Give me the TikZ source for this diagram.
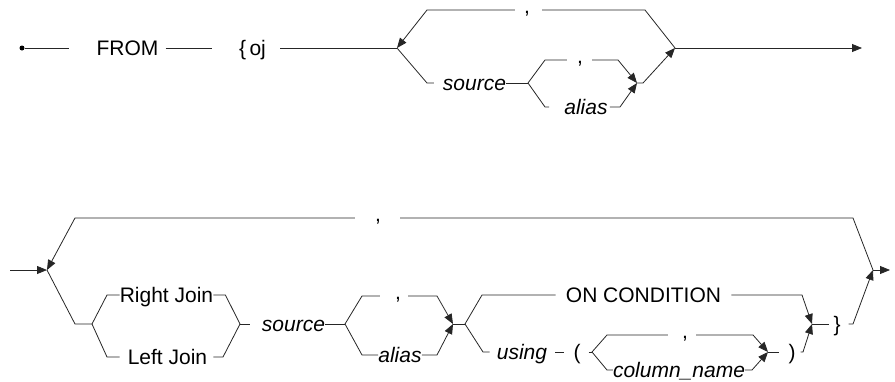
\documentclass[tikz,border=0pt]{standalone}
\usepackage{fontspec}
\setmainfont{Liberation Sans}
\usetikzlibrary{arrows.meta, calc}

\begin{document}
\begin{tikzpicture}[
  x=1pt, y=-1pt,
  word/.style={inner sep=0pt, text height=15pt, text depth=0pt, font=\fontsize{21}{24}\selectfont},
  ital/.style={word, font=\fontsize{21}{24}\selectfont\itshape},
  sep/.style={inner sep=0pt, text height=3pt, text depth=3pt, font=\fontsize{21}{24}\selectfont},
  rail/.style={draw=black!85, line width=0.8pt},
  arr/.style={rail, -{Triangle[length=10pt, width=8pt]}},
]
  \useasboundingbox (0,0) rectangle (895,381);

  % Row 1 - FROM {oj
  \node[circle, fill=black, inner sep=0pt, minimum size=5pt] (start) at (22,48) {};
  \node[word] (from) at (127.5,48) {FROM};
  \node[word] (oj) at (252.5,48) {\{\,oj};
  \node[sep] (com1) at (527,13) {,};
  \node[ital] (src1) at (474.5,83) {source};
  \node[sep] (com2) at (580,63) {,};
  \node[ital] (alias1) at (586,107) {alias};

  \coordinate (j1) at (397,48);
  \coordinate (j2) at (675,48);
  \coordinate (j3) at (528,83);
  \coordinate (j4) at (637,83);
  \coordinate (end1) at (862,48);

  \draw[rail] (start) -- ([xshift=-27pt]from.west);
  \draw[rail] ([xshift=7pt]from.east) -- ([xshift=-27pt]oj.west);
  \draw[rail] ([xshift=14pt]oj.east) -- (j1);
  \draw[rail] (j2) -- ++(-30,-38) -- ([xshift=12pt,yshift=3pt]com1.east);
  \draw[arr] ([xshift=-9pt,yshift=3pt]com1.west) -- ($(j1)+(30,-38)$) -- (j1);
  \draw[rail] (j1) -- ++(30,35) -- ([xshift=-9pt]src1.west);
  \draw[rail] (src1.east) -- (j3);
  \draw[rail] (j3) -- ++(17,-23) -- ([xshift=-10pt,yshift=3pt]com2.west);
  \draw[arr] ([xshift=9pt,yshift=3pt]com2.east) -- ($(j4)+(-19,-23)$) -- (j4);
  \draw[rail] (j3) -- ++(17,24) -- ([xshift=-15pt]alias1.west);
  \draw[arr] ([xshift=2pt]alias1.east) -- ($(j4)+(-17,24)$) -- (j4);
  \draw[arr] (j4) -- ++(6,0) -- (j2);
  \draw[arr] (j2) -- (end1);

  % Row 2 - joins
  \node[sep] (com3) at (378,221) {,};
  \node[word] (rj) at (166.5,295) {Right Join};
  \node[word] (lj) at (167.5,357) {Left Join};
  \node[ital] (src2) at (293.5,324) {source};
  \node[sep] (com4) at (398,299) {,};
  \node[ital] (alias2) at (400,355) {alias};
  \node[word] (oncond) at (643.5,295) {ON CONDITION};
  \node[ital] (using) at (522,352) {using};
  \node[word] (lpar) at (577,352) {(};
  \node[sep] (com5) at (685,338) {,};
  \node[ital] (colname) at (679,370) {column\_name};
  \node[word] (rpar) at (792,352) {)};
  \node[word] (rbrace) at (837,324) {\}};

  \coordinate (in2) at (10,270);
  \coordinate (k1) at (47,270);
  \coordinate (k2) at (92,324);
  \coordinate (k3) at (240,324);
  \coordinate (k4) at (345,324);
  \coordinate (k5) at (453,324);
  \coordinate (k6) at (465,324);
  \coordinate (k7) at (812,324);
  \coordinate (k8) at (592,352);
  \coordinate (k9) at (768,352);
  \coordinate (k10) at (873,270);
  \coordinate (end2) at (890,270);

  \draw[arr] (in2) -- (k1);
  \draw[rail] (k10) -- ++(-20,-52) -- ([xshift=19pt,yshift=3pt]com3.east);
  \draw[arr] ([xshift=-20pt,yshift=3pt]com3.west) -- ($(k1)+(28,-52)$) -- (k1);
  \draw[rail] (k1) -- ++(28,54) -- (k2);
  \draw[rail] (k2) -- ++(15,-29) -- (rj.west);
  \draw[rail] (rj.east) -- ++(12,0) -- (k3);
  \draw[rail] (k2) -- ++(15,33) -- ([xshift=-8pt]lj.west);
  \draw[rail] ([xshift=6pt]lj.east) -- ($(k3)+(-17,33)$) -- (k3);
  \draw[rail] (k3) -- ([xshift=-12pt]src2.west);
  \draw[rail] (src2.east) -- (k4);
  \draw[rail] (k4) -- ++(17,-28) -- ([xshift=-15pt,yshift=3pt]com4.west);
  \draw[arr] ([xshift=7pt,yshift=3pt]com4.east) -- ($(k5)+(-16,-28)$) -- (k5);
  \draw[rail] (k4) -- ++(17,31) -- (alias2.west);
  \draw[arr] (alias2.east) -- ($(k5)+(-16,31)$) -- (k5);
  \draw[rail] (k5) -- (k6);

  % ON CONDITION / using ( column_name )
  \draw[rail] (k6) -- ++(17,-29) -- ([xshift=-10pt]oncond.west);
  \draw[arr] ([xshift=10pt]oncond.east) -- ($(k7)+(-10,-29)$) -- (k7);
  \draw[rail] (k6) -- ++(18,28) -- ([xshift=-7pt]using.west);
  \draw[rail] ([xshift=8pt]using.east) -- ([xshift=-9pt]lpar.west);
  \draw[rail] ([xshift=8pt]lpar.east) -- (k8);
  \draw[rail] (k8) -- ++(15,-17) -- ([xshift=-14pt,yshift=3pt]com5.west);
  \draw[arr] ([xshift=8pt,yshift=3pt]com5.east) -- ($(k9)+(-15,-17)$) -- (k9);
  \draw[rail] (k8) -- ++(15,18) -- (colname.west);
  \draw[arr] (colname.east) -- ($(k9)+(-16,18)$) -- (k9);
  \draw[rail] (k9) -- ([xshift=-9pt]rpar.west);
  \draw[arr] ([xshift=5pt]rpar.east) -- ($(k7)+(-9,28)$) -- (k7);
  \draw[rail] (k7) -- ([xshift=-4pt]rbrace.west);
  \draw[arr] ([xshift=8pt]rbrace.east) -- ($(k10)+(-20,54)$) -- (k10);
  \draw[arr] (k10) -- (end2);
\end{tikzpicture}
\end{document}
